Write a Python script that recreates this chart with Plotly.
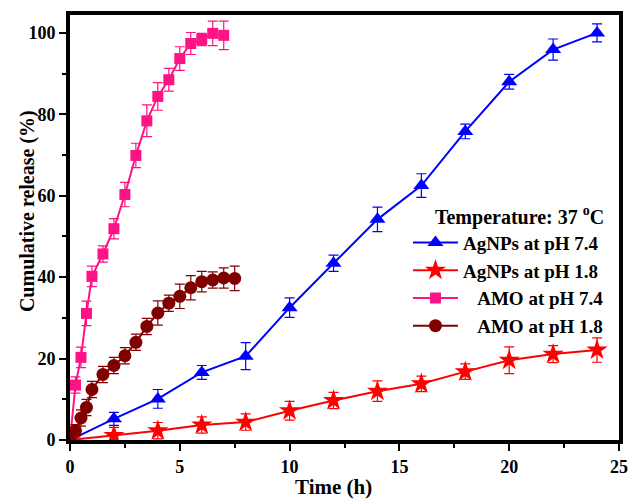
import plotly.graph_objects as go

# Release time points (h)
t_ag = [0, 2, 4, 6, 8, 10, 12, 14, 16, 18, 20, 22, 24]
t_amo74 = [0, 0.25, 0.5, 0.75, 1, 1.5, 2, 2.5, 3, 3.5, 4, 4.5, 5, 5.5, 6, 6.5, 7]
t_amo18 = [0, 0.25, 0.5, 0.75, 1, 1.5, 2, 2.5, 3, 3.5, 4, 4.5, 5, 5.5, 6, 6.5, 7, 7.5]

# Cumulative release (%) and standard deviations
ag74 = [0, 5.2, 10.1, 16.6, 20.6, 32.5, 43.4, 54.2, 62.5, 75.8, 88.0, 95.9, 100.0]
ag74_err = [0, 1.6, 2.3, 1.7, 3.3, 2.4, 2.0, 3.0, 2.9, 1.8, 1.8, 2.6, 2.2]

ag18 = [0, 1.1, 2.3, 3.7, 4.4, 7.2, 9.7, 12.0, 13.8, 16.8, 19.6, 21.1, 22.1]
ag18_err = [0, 2.0, 2.0, 2.0, 2.0, 2.3, 2.0, 2.5, 1.9, 1.9, 3.3, 2.1, 3.0]

amo74 = [0, 13.5, 20.3, 31.1, 40.2, 45.7, 51.9, 60.3, 69.9, 78.4, 84.4, 88.5,
         93.7, 97.4, 98.4, 99.9, 99.4]
amo74_err = [0, 2.0, 2.5, 3.0, 2.5, 2.0, 2.5, 3.0, 3.0, 3.9, 3.4, 2.8,
             2.9, 2.7, 1.5, 3.0, 3.5]

amo18 = [0, 2.3, 5.4, 8.0, 12.4, 16.1, 18.3, 20.7, 24.0, 27.9, 31.2, 33.6,
         35.3, 37.4, 38.9, 39.3, 39.8, 39.7]
amo18_err = [0, 1.5, 2.0, 2.0, 2.0, 2.0, 2.0, 2.0, 2.0, 2.0, 3.0, 2.0,
             3.0, 3.0, 2.5, 2.0, 2.5, 3.0]

x_ticks = [0, 5, 10, 15, 20, 25]
y_ticks = [0, 20, 40, 60, 80, 100]

NBSP = "\u00a0"
FONT = "Liberation Serif"

series = [
    ("AgNPs at pH 7.4", t_ag, ag74, ag74_err, "#0000FF", "triangle-up", 14),
    ("AgNPs at pH 1.8", t_ag, ag18, ag18_err, "#FF0000", "star", 16),
    (NBSP * 3 + "AMO at pH 7.4", t_amo74, amo74, amo74_err, "#FF1283", "square", 11),
    (NBSP * 3 + "AMO at pH 1.8", t_amo18, amo18, amo18_err, "#800000", "circle", 13),
]

fig = go.Figure()
for name, t, y, e, color, sym, size in series:
    fig.add_trace(go.Scatter(
        x=t, y=y, name=name, mode="lines+markers",
        line=dict(color=color, width=2),
        marker=dict(symbol=sym, size=size, color=color, line=dict(width=0)),
        error_y=dict(type="data", array=e, visible=True, color=color,
                     thickness=1.2, width=5),
    ))

axis_common = dict(
    showline=True, linecolor="black", linewidth=4, mirror=True,
    ticks="outside", tickcolor="black", tickwidth=1.5, ticklen=7,
    showgrid=False, zeroline=False,
    tickfont=dict(family=FONT, size=18, color="black", weight="bold"),
)

fig.update_xaxes(
    range=[0, 25], tickvals=x_ticks, ticktext=[str(v) for v in x_ticks],
    minor=dict(dtick=2.5, ticks="outside", ticklen=4, tickcolor="black", tickwidth=1.5),
    **axis_common,
)
fig.update_yaxes(
    range=[0, 104.4], tickvals=y_ticks, ticktext=[str(v) for v in y_ticks],
    minor=dict(dtick=10, ticks="outside", ticklen=4, tickcolor="black", tickwidth=1.5),
    **axis_common,
)

# Axis titles
fig.add_annotation(
    text="<b>Time (h)</b>", xref="paper", yref="paper", x=0.48, y=-0.11,
    xanchor="center", yanchor="middle", showarrow=False,
    font=dict(family=FONT, size=21, color="black"),
)
fig.add_annotation(
    text="<b>Cumulative release (%)</b>", xref="paper", yref="paper",
    x=-0.077, y=0.538, textangle=-90, xanchor="center", yanchor="middle",
    showarrow=False, font=dict(family=FONT, size=20, color="black"),
)

fig.update_layout(
    width=637, height=500,
    margin=dict(l=70, r=9, t=15, b=60),
    plot_bgcolor="white", paper_bgcolor="white",
    legend=dict(
        x=0.6156, y=0.57, xanchor="left", yanchor="top",
        bgcolor="rgba(0,0,0,0)", itemwidth=45, tracegroupgap=0,
        font=dict(family=FONT, size=19, color="black", weight="bold"),
        title=dict(text=NBSP * 5 + "<b>Temperature: 37 <sup>o</sup>C</b>",
                   font=dict(family=FONT, size=20, color="black"), side="top"),
    ),
)

fig.write_html("out.html")
